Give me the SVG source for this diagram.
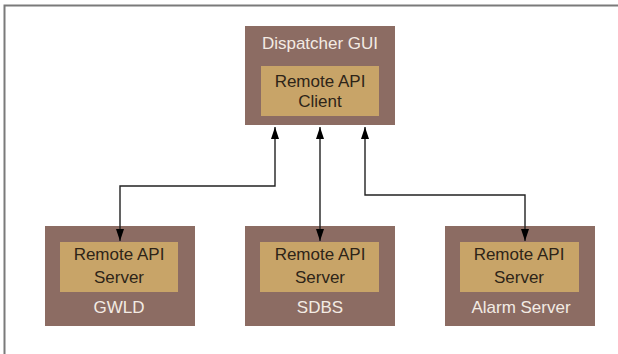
<svg xmlns="http://www.w3.org/2000/svg" width="618" height="354" viewBox="0 0 618 354">
<style>
.outer{fill:#8c6c63}
.inner{fill:#c8a468}
.lt{font-family:"Liberation Sans",Arial,sans-serif;font-size:17px;fill:#f3ebe4;text-anchor:middle}
.dt{font-family:"Liberation Sans",Arial,sans-serif;font-size:17px;fill:#2e2418;text-anchor:middle}
.conn{fill:none;stroke:#222;stroke-width:1.4;marker-start:url(#ah);marker-end:url(#ah)}
</style>
<defs>
<marker id="ah" viewBox="0 0 12 8" refX="12" refY="4" markerWidth="12" markerHeight="8" markerUnits="userSpaceOnUse" orient="auto-start-reverse">
<path d="M0,0 L12,4 L0,8 Z" fill="#000"/>
</marker>
</defs>
<rect x="0" y="0" width="618" height="354" fill="#fff"/>
<path d="M4.5,354 L4.5,5.5 L618,5.5" fill="none" stroke="#7a7a7a" stroke-width="2"/>
<g id="dispatcher">
<rect class="outer" x="245" y="26" width="150" height="99"/>
<text class="lt" x="320" y="49">Dispatcher GUI</text>
<rect class="inner" x="261" y="66" width="118" height="50"/>
<text class="dt" x="320" y="87">Remote API</text>
<text class="dt" x="320" y="107">Client</text>
</g>
<g id="gwld">
<rect class="outer" x="45" y="226" width="150" height="100"/>
<rect class="inner" x="60" y="242" width="118" height="50"/>
<text class="dt" x="119" y="260">Remote API</text>
<text class="dt" x="119" y="283">Server</text>
<text class="lt" x="119" y="313">GWLD</text>
</g>
<g id="sdbs">
<rect class="outer" x="245" y="226" width="150" height="100"/>
<rect class="inner" x="260" y="242" width="119" height="50"/>
<text class="dt" x="320" y="260">Remote API</text>
<text class="dt" x="320" y="283">Server</text>
<text class="lt" x="320" y="313">SDBS</text>
</g>
<g id="alarm">
<rect class="outer" x="445" y="226" width="150" height="100"/>
<rect class="inner" x="460" y="242" width="119" height="50"/>
<text class="dt" x="519" y="260">Remote API</text>
<text class="dt" x="519" y="283">Server</text>
<text class="lt" x="521" y="313">Alarm Server</text>
</g>
<g id="connectors">
<path class="conn" d="M120,241 L120,186 L275,186 L275,127"/>
<path class="conn" d="M320,241 L320,127"/>
<path class="conn" d="M525,241 L525,195 L365,195 L365,127"/>
</g>
</svg>
